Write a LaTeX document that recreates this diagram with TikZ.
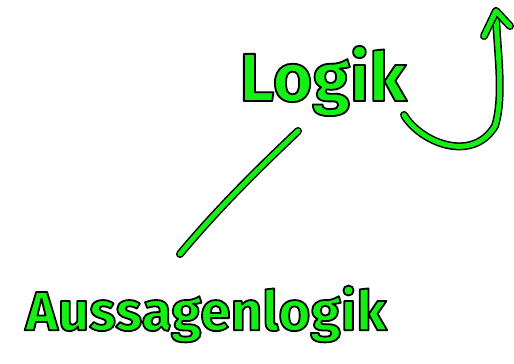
\documentclass[tikz,border=0pt]{standalone}
\usepackage{fontspec}
\setmainfont{Fira Sans}
\definecolor{hgreen}{RGB}{20,240,20}
\newcommand{\outlined}[1]{{\special{pdf:literal direct 2 Tr 1.8 w 1 j 0 0 0 RG}#1\special{pdf:literal direct 0 Tr}}}
\tikzset{
  hand/.style={line width=5pt, hgreen, line cap=round, line join=round,
    preaction={draw=black, line width=8pt, line cap=round, line join=round}},
  word/.style={inner sep=0pt, text=hgreen, anchor=center}
}
\begin{document}
\begin{tikzpicture}[x=1pt,y=1pt]
\useasboundingbox (0,0) rectangle (514,364);
\node[word, font=\bfseries\fontsize{68}{68}\selectfont] (logik) at (323,283) {\outlined{Logik}};
\node[word, font=\bfseries\fontsize{55}{55}\selectfont] (aussagen) at (206,50) {\outlined{Aussagenlogik}};
\coordinate (a1) at (298,233);
\coordinate (a2) at (180,110);
\draw[hand] (a1) .. controls (285,220) and (230,170) .. (a2);
\coordinate (c0) at (404,249);
\coordinate (c1) at (496,353);
\draw[hand] (c0) .. controls (420,222) and (472,200) .. (495,238)
  .. controls (505,270) and (496,320) .. (c1);
\draw[hand] (484,328) -- (c1) -- (510,338);
\end{tikzpicture}
\end{document}
